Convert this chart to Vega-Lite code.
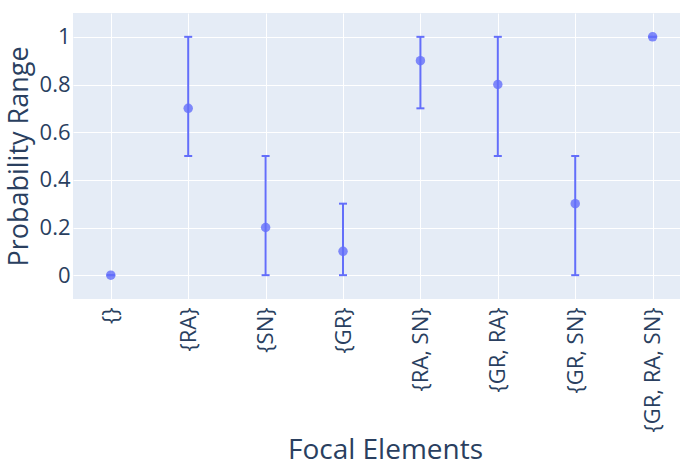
{
  "$schema": "https://vega.github.io/schema/vega-lite/v6.json",
  "width": 607,
  "height": 286,
  "autosize": "none",
  "padding": {"left": 73, "top": 13, "right": 0, "bottom": 167},
  "background": "white",
  "config": {
    "font": "Open Sans",
    "view": {"fill": "#E5ECF6", "stroke": null},
    "axis": {
      "domain": false,
      "ticks": false,
      "gridColor": "white",
      "gridWidth": 1,
      "gridOpacity": 1,
      "labelColor": "#2a3f5f",
      "titleColor": "#2a3f5f",
      "labelFont": "Open Sans",
      "titleFont": "Open Sans",
      "titleFontWeight": "normal",
      "labelFontSize": 22,
      "titleFontSize": 28
    }
  },
  "data": {
    "values": [
      {"focal": "{}", "p": 0, "lo": 0, "hi": 0},
      {"focal": "{RA}", "p": 0.7, "lo": 0.5, "hi": 1},
      {"focal": "{SN}", "p": 0.2, "lo": 0, "hi": 0.5},
      {"focal": "{GR}", "p": 0.1, "lo": 0, "hi": 0.3},
      {"focal": "{RA, SN}", "p": 0.9, "lo": 0.7, "hi": 1},
      {"focal": "{GR, RA}", "p": 0.8, "lo": 0.5, "hi": 1},
      {"focal": "{GR, SN}", "p": 0.3, "lo": 0, "hi": 0.5},
      {"focal": "{GR, RA, SN}", "p": 1, "lo": 1, "hi": 1}
    ]
  },
  "encoding": {
    "x": {
      "field": "focal",
      "type": "nominal",
      "sort": null,
      "scale": {"type": "point", "padding": 0.421, "align": 0.58},
      "axis": {
        "title": "Focal Elements",
        "labelAngle": -90,
        "labelPadding": 8,
        "titlePadding": 4,
        "titleX": 312,
        "grid": true
      }
    }
  },
  "layer": [
    {
      "mark": {"type": "rule", "color": "#636efa", "strokeWidth": 2},
      "encoding": {
        "y": {
          "field": "lo",
          "type": "quantitative",
          "scale": {"domain": [-0.1, 1.1], "nice": false, "zero": false},
          "axis": {
            "title": "Probability Range",
            "values": [0, 0.2, 0.4, 0.6, 0.8, 1],
            "format": ".1~f",
            "labelPadding": 3,
            "titlePadding": 6,
            "titleFontSize": 27
          }
        },
        "y2": {"field": "hi"}
      }
    },
    {
      "mark": {"type": "tick", "color": "#636efa", "size": 8, "thickness": 2, "orient": "horizontal", "opacity": 1},
      "encoding": {"y": {"field": "lo", "type": "quantitative"}}
    },
    {
      "mark": {"type": "tick", "color": "#636efa", "size": 8, "thickness": 2, "orient": "horizontal", "opacity": 1},
      "encoding": {"y": {"field": "hi", "type": "quantitative"}}
    },
    {
      "mark": {"type": "circle", "color": "#636efa", "size": 90, "opacity": 0.8},
      "encoding": {"y": {"field": "p", "type": "quantitative"}}
    }
  ]
}
